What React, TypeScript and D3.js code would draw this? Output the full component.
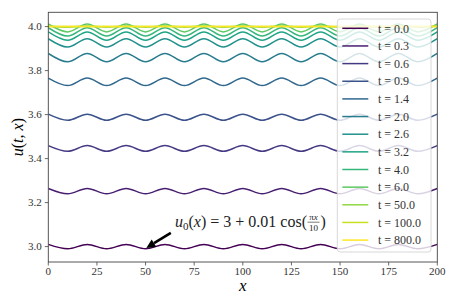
import { useLayoutEffect, useRef, useState } from "react";
import * as d3 from "d3";

const width = 458;
const height = 305;
const margin = { top: 12.3, right: 20.7, bottom: 43, left: 48.3 };
const font = "Liberation Serif, DejaVu Serif, serif";

// one entry per time snapshot
const times = ["0.0", "0.3", "0.6", "0.9", "1.4", "2.0", "2.6", "3.2", "4.0", "6.0", "50.0", "100.0", "800.0"];
const peakValues = [3.01, 3.264, 3.459, 3.602, 3.766, 3.878, 3.945, 3.976, 3.995, 4.012, 4.003, 4.0, 4.0];
const troughValues = [2.99, 3.24, 3.433, 3.574, 3.732, 3.84, 3.907, 3.938, 3.957, 3.976, 3.997, 4.0, 4.0];
// the profiles peak at x = 0, 20, 40 ... and dip at x = 10, 30, 50 ...
const extremaX = [0, 10, 20, 30, 40, 50, 60, 70, 80, 90, 100, 110, 120, 130, 140, 150, 160, 170, 180, 190, 200];

const xTicks = [0, 25, 50, 75, 100, 125, 150, 175, 200];
const yTicks = [3.0, 3.2, 3.4, 3.6, 3.8, 4.0];

const arrowTail: [number, number] = [63, 3.062];
const arrowHead: [number, number] = [50.4, 2.994];

export default function App() {
  const x = d3.scaleLinear().domain([0, 200]).range([margin.left, width - margin.right]);
  const y = d3.scaleLinear().domain([2.93, 4.065]).range([height - margin.bottom, margin.top]);
  const color = (i: number) => d3.interpolateViridis(i / (times.length - 1));

  const line = d3
    .line<[number, number]>()
    .x((d) => x(d[0]))
    .y((d) => y(d[1]))
    .curve(d3.curveMonotoneX);

  const series = times.map((t, s) => ({
    t,
    points: extremaX.map((xv, i) => [xv, i % 2 === 0 ? peakValues[s] : troughValues[s]] as [number, number]),
  }));

  // annotation text is measured so the fraction sits right after "cos("
  const textRef = useRef<SVGTextElement>(null);
  const [textW, setTextW] = useState(132);
  useLayoutEffect(() => {
    if (textRef.current) setTextW(textRef.current.getBBox().width);
  }, []);

  const [tx0, ty0] = [x(arrowTail[0]), y(arrowTail[1])];
  const [tx1, ty1] = [x(arrowHead[0]), y(arrowHead[1])];
  const ang = Math.atan2(ty1 - ty0, tx1 - tx0);
  const headLen = 9;
  const bx = tx1 - headLen * Math.cos(ang);
  const by = ty1 - headLen * Math.sin(ang);
  const px = -Math.sin(ang);
  const py = Math.cos(ang);
  const head = `M${tx1},${ty1}L${bx + px * 4.5},${by + py * 4.5}L${bx - px * 4.5},${by - py * 4.5}Z`;

  const legendX = 337.3;
  const legendY = 19;
  const rowH = 17.65;

  const annX = 175;
  const annY = 227;

  return (
    <svg
      width={width}
      height={height}
      style={{ position: "absolute", left: 0, top: 0, background: "#fff", fontFamily: font }}
    >
      <defs>
        <clipPath id="plot">
          <rect x={margin.left} y={margin.top} width={width - margin.left - margin.right} height={height - margin.top - margin.bottom} />
        </clipPath>
      </defs>

      <g clipPath="url(#plot)">
        {series.map((d, i) => (
          <path key={d.t} d={line(d.points) ?? ""} fill="none" stroke={color(i)} strokeWidth={1.5} />
        ))}
      </g>

      {/* spines */}
      <rect
        x={margin.left}
        y={margin.top}
        width={width - margin.left - margin.right}
        height={height - margin.top - margin.bottom}
        fill="none"
        stroke="#444"
        strokeWidth={0.9}
      />

      {/* x axis */}
      {xTicks.map((t) => (
        <g key={t} transform={`translate(${x(t)},${height - margin.bottom})`}>
          <line y2={3.5} stroke="#444" strokeWidth={0.8} />
          <text y={13} textAnchor="middle" fontSize={11} fill="#333">
            {t}
          </text>
        </g>
      ))}
      {/* y axis */}
      {yTicks.map((t) => (
        <g key={t} transform={`translate(${margin.left},${y(t)})`}>
          <line x2={-3.5} stroke="#444" strokeWidth={0.8} />
          <text x={-6.5} dy="0.35em" textAnchor="end" fontSize={11} fill="#333">
            {t.toFixed(1)}
          </text>
        </g>
      ))}

      <text x={(margin.left + width - margin.right) / 2} y={291} textAnchor="middle" fontSize={17} fontStyle="italic">
        x
      </text>
      <text transform={`translate(23,${(margin.top + height - margin.bottom) / 2}) rotate(-90)`} textAnchor="middle" fontSize={16}>
        <tspan fontStyle="italic">u</tspan>(<tspan fontStyle="italic">t</tspan>, <tspan fontStyle="italic">x</tspan>)
      </text>

      {/* annotation */}
      <path d={`M${tx0},${ty0}L${bx},${by}`} stroke="#000" strokeWidth={2.6} />
      <path d={head} fill="#000" />
      <text ref={textRef} x={annX} y={annY} fontSize={16} fill="#222" xmlSpace="preserve">
        <tspan fontStyle="italic">u</tspan>
        <tspan fontSize={11} dy={3}>0</tspan>
        <tspan dy={-3}>(</tspan>
        <tspan fontStyle="italic">x</tspan>
        <tspan>{") = 3 + 0.01 cos("}</tspan>
      </text>
      <text x={annX + textW + 6.5} y={annY - 7} fontSize={9} textAnchor="middle" fill="#222">
        π<tspan fontStyle="italic">x</tspan>
      </text>
      <line x1={annX + textW + 0.5} x2={annX + textW + 12.5} y1={annY - 4.8} y2={annY - 4.8} stroke="#222" strokeWidth={0.6} />
      <text x={annX + textW + 6.5} y={annY + 3.5} fontSize={9} textAnchor="middle" fill="#222">
        10
      </text>
      <text x={annX + textW + 13.5} y={annY} fontSize={16} fill="#222">
        )
      </text>

      {/* legend */}
      <rect
        x={legendX}
        y={legendY}
        width={431 - legendX}
        height={252 - legendY}
        rx={3}
        fill="#fff"
        fillOpacity={0.8}
        stroke="#d4d4d4"
        strokeWidth={0.9}
      />
      {times.map((t, i) => {
        const cy = legendY + 9.3 + i * rowH;
        return (
          <g key={t}>
            <line x1={342.3} x2={368.3} y1={cy} y2={cy} stroke={color(i)} strokeWidth={1.5} />
            <text x={378} y={cy} dy="0.35em" fontSize={12} fill="#333" xmlSpace="preserve">
              {`t = ${t}`}
            </text>
          </g>
        );
      })}
    </svg>
  );
}
